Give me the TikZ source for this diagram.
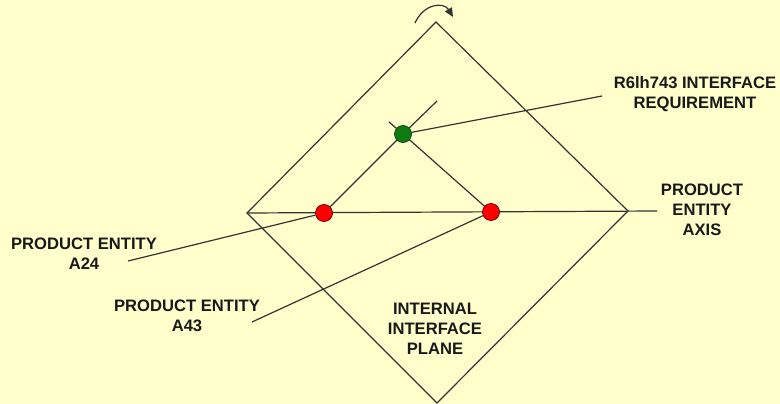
\documentclass[tikz,border=0pt]{standalone}
\usepackage{fontspec}
\setmainfont{Liberation Sans}
\usetikzlibrary{arrows.meta}
\definecolor{bgyellow}{RGB}{255,255,204}
\definecolor{reqgreen}{RGB}{16,122,16}
\begin{document}
\begin{tikzpicture}[x=1pt,y=-1pt,
 entity/.style={circle,draw=black!75!red,fill=red,minimum size=17pt,inner sep=0pt},
 reqnode/.style={circle,draw=black!75!green,fill=reqgreen,minimum size=17pt,inner sep=0pt},
 lab/.style={align=center,inner sep=0pt,text=black!90,font=\fontsize{16.6}{20}\selectfont\bfseries},
 edge/.style={draw=black!80,line width=1.2pt}
]
 \fill[bgyellow] (0,0) rectangle (780,404);
 \useasboundingbox (0,0) rectangle (780,404);
 % plane
 \coordinate (top) at (436,22);
 \coordinate (left) at (247,213);
 \coordinate (right) at (628,211);
 \coordinate (bottom) at (437,403);
 \coordinate (axisend) at (657,211);
 \draw[edge] (top)--(right)--(bottom)--(left)--cycle;
 \draw[edge] (left)--(axisend);
 % rotation
 \draw[edge,-{Triangle[length=9pt,width=8pt]}] (415,23) .. controls (424,3) and (444,2) .. (453,17);
 % entities
 \node[entity] (a24) at (324,213) {};
 \node[entity] (a43) at (491,212) {};
 \node[reqnode] (R) at (403,134) {};
 \coordinate (stubA) at (437,101);
 \coordinate (stubB) at (389,122);
 \draw[edge] (a24)--(R);
 \draw[edge] (R)--(stubA);
 \draw[edge] (a43)--(R);
 \draw[edge] (R)--(stubB);
 % labels
 \node[lab] (Rlab) at (695,94) {R6lh743 INTERFACE\\REQUIREMENT};
 \node[lab] (axislab) at (702,210) {PRODUCT\\ENTITY\\AXIS};
 \node[lab] (a24lab) at (84,254) {PRODUCT ENTITY\\A24};
 \node[lab] (a43lab) at (187,316) {PRODUCT ENTITY\\A43};
 \node[lab] (planelab) at (435,329) {INTERNAL\\INTERFACE\\PLANE};
 \coordinate (Rend) at (602,96);
 \coordinate (a24end) at (128,261);
 \coordinate (a43end) at (252,322);
 \draw[edge] (R)--(Rend);
 \draw[edge] (a24)--(a24end);
 \draw[edge] (a43)--(a43end);
 \node[entity] at (a24) {};
 \node[entity] at (a43) {};
 \node[reqnode] at (R) {};
\end{tikzpicture}
\end{document}
